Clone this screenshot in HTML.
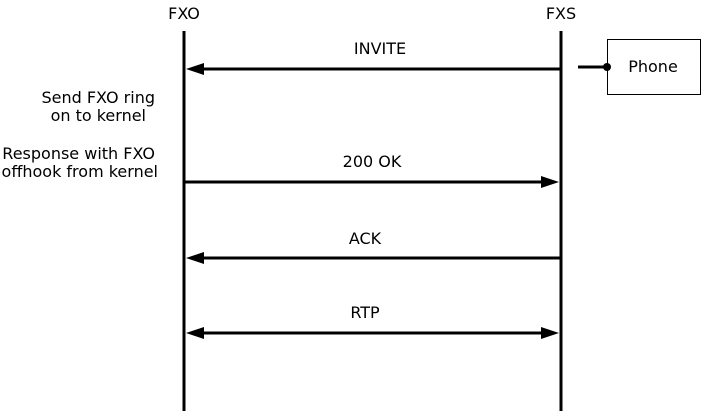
<!DOCTYPE html>
<html><head><style>
body{margin:0;background:#fff;width:702px;height:411px;overflow:hidden}
text{font-family:"DejaVu Sans",sans-serif;font-size:16px;fill:#000}
</style></head><body>
<svg width="702" height="411" xmlns="http://www.w3.org/2000/svg">
<text x="184" y="19" text-anchor="middle">FXO</text>
<text x="561" y="19" text-anchor="middle">FXS</text>
<line x1="184" y1="31" x2="184" y2="411" stroke="#000" stroke-width="3"/>
<line x1="561" y1="31" x2="561" y2="411" stroke="#000" stroke-width="3"/>
<rect x="607.5" y="39.5" width="93" height="55" fill="#fff" stroke="#000"/>
<text x="653" y="72" text-anchor="middle">Phone</text>
<line x1="578" y1="67" x2="607" y2="67" stroke="#000" stroke-width="3"/>
<circle cx="607" cy="67" r="4"/>
<line x1="200" y1="69" x2="561" y2="69" stroke="#000" stroke-width="3"/>
<polygon points="186,69 204,63 204,75"/>
<text x="380" y="54" text-anchor="middle">INVITE</text>
<line x1="184" y1="182" x2="545" y2="182" stroke="#000" stroke-width="3"/>
<polygon points="559,182 541,176 541,188"/>
<text x="372" y="167" text-anchor="middle">200 OK</text>
<line x1="200" y1="258" x2="561" y2="258" stroke="#000" stroke-width="3"/>
<polygon points="186,258 204,252 204,264"/>
<text x="365" y="244" text-anchor="middle">ACK</text>
<line x1="200" y1="333" x2="545" y2="333" stroke="#000" stroke-width="3"/>
<polygon points="186,333 204,327 204,339"/>
<polygon points="559,333 541,327 541,339"/>
<text x="365" y="318" text-anchor="middle">RTP</text>
<text x="155" y="103" text-anchor="end">Send FXO ring</text>
<text x="146" y="121" text-anchor="end">on to kernel</text>
<text x="155" y="159" text-anchor="end">Response with FXO</text>
<text x="158" y="177" text-anchor="end">offhook from kernel</text>
</svg>
</body></html>
